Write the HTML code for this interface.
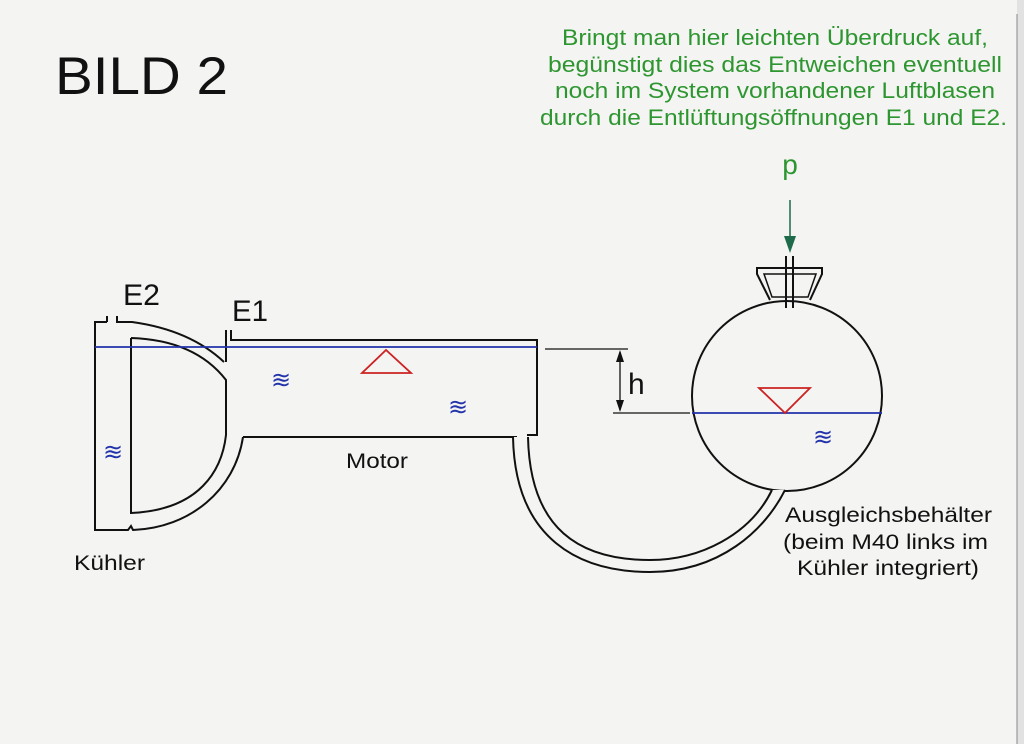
<!DOCTYPE html>
<html><head><meta charset="utf-8"><style>
html,body{margin:0;padding:0;background:#f4f4f3;}
svg{display:block;}
</style></head><body>
<svg width="1024" height="744" viewBox="0 0 1024 744" xmlns="http://www.w3.org/2000/svg" font-family="Liberation Sans, Arial, sans-serif">
<rect width="1024" height="744" fill="#f4f4f3"/>
<rect x="1017" y="0" width="7" height="744" fill="#e2e2e2"/>
<line x1="1017" y1="14" x2="1017" y2="744" stroke="#888" stroke-width="1"/>
<text x="55" y="94" font-size="53" fill="#111" textLength="173" lengthAdjust="spacingAndGlyphs">BILD 2</text>
<g fill="#2e9630" font-size="22">
<text x="562" y="45" textLength="426" lengthAdjust="spacingAndGlyphs">Bringt man hier leichten Überdruck auf,</text>
<text x="548" y="72" textLength="454" lengthAdjust="spacingAndGlyphs">begünstigt dies das Entweichen eventuell</text>
<text x="555" y="98" textLength="440" lengthAdjust="spacingAndGlyphs">noch im System vorhandener Luftblasen</text>
<text x="540" y="125" textLength="467" lengthAdjust="spacingAndGlyphs">durch die Entlüftungsöffnungen E1 und E2.</text>
<text x="790" y="174" font-size="28" text-anchor="middle">p</text>
</g>
<line x1="790" y1="200" x2="790" y2="240" stroke="#1d6b4a" stroke-width="1.5"/>
<polygon points="784,236 796,236 790,253" fill="#1d6b4a"/>
<g fill="none" stroke="#111" stroke-width="2">
<path d="M107,322 H95 V530 H128 L131,526 L133,530 C190,528 235,490 243,437"/>
<path d="M107,322 V316 M117,316 V322 H132 Q190,330 224,362"/>
<path d="M131,338 V513 C200,510 222,470 226,435 V380 Q195,340 131,338"/>
<path d="M226,330 V362 M231,330 V340 H537 V435 H527"/>
<path d="M243,437 H517"/>
<circle cx="787" cy="396" r="95"/>
</g>
<path d="M513,437 C515,540 580,572 650,572 C720,572 765,530 785,490 L772,490 C750,535 700,560 650,560 C580,560 530,530 528,437 Z" fill="#f4f4f3" stroke="none"/>
<g fill="none" stroke="#111" stroke-width="2">
<path d="M513,437 C515,540 580,572 650,572 C720,572 765,530 785,490"/>
<path d="M528,437 C530,530 580,560 650,560 C700,560 750,535 772,490"/>
<path d="M770,300 L757,274 V268 H822 V274 L810,300" fill="#f4f4f3"/>
<path d="M764,274 L772,297 H808 L816,274 Z" stroke-width="1.5"/>
<line x1="786" y1="256" x2="786" y2="308"/>
<line x1="793" y1="256" x2="793" y2="308"/>
</g>
<g stroke="#111" stroke-width="1.3" fill="none">
<line x1="545" y1="349" x2="628" y2="349"/>
<line x1="613" y1="413" x2="690" y2="413"/>
<line x1="620" y1="352" x2="620" y2="410"/>
</g>
<polygon points="616,362 624,362 620,350" fill="#111"/>
<polygon points="616,400 624,400 620,412" fill="#111"/>
<text x="628" y="394" font-size="30" fill="#111">h</text>
<g stroke="#2233aa" stroke-width="1.8">
<line x1="95" y1="347" x2="537" y2="347"/>
<line x1="692" y1="413" x2="882" y2="413"/>
</g>
<g fill="none" stroke="#cc2222" stroke-width="1.8">
<polygon points="386,350 362,373 411,373"/>
<polygon points="759,388 810,388 785,413"/>
</g>
<g fill="#2233aa" font-size="24" text-anchor="middle">
<text x="113" y="460">≋</text>
<text x="281" y="388">≋</text>
<text x="458" y="415">≋</text>
<text x="823" y="445">≋</text>
</g>
<g fill="#111">
<text x="123" y="305" font-size="30" textLength="37" lengthAdjust="spacingAndGlyphs">E2</text>
<text x="232" y="321" font-size="30" textLength="36" lengthAdjust="spacingAndGlyphs">E1</text>
<text x="346" y="468" font-size="21" textLength="62" lengthAdjust="spacingAndGlyphs">Motor</text>
<text x="74" y="570" font-size="21" textLength="71" lengthAdjust="spacingAndGlyphs">Kühler</text>
<text x="785" y="522" font-size="21" textLength="207" lengthAdjust="spacingAndGlyphs">Ausgleichsbehälter</text>
<text x="783" y="549" font-size="21" textLength="205" lengthAdjust="spacingAndGlyphs">(beim M40 links im</text>
<text x="797" y="575" font-size="21" textLength="182" lengthAdjust="spacingAndGlyphs">Kühler integriert)</text>
</g>
</svg>
</body></html>
